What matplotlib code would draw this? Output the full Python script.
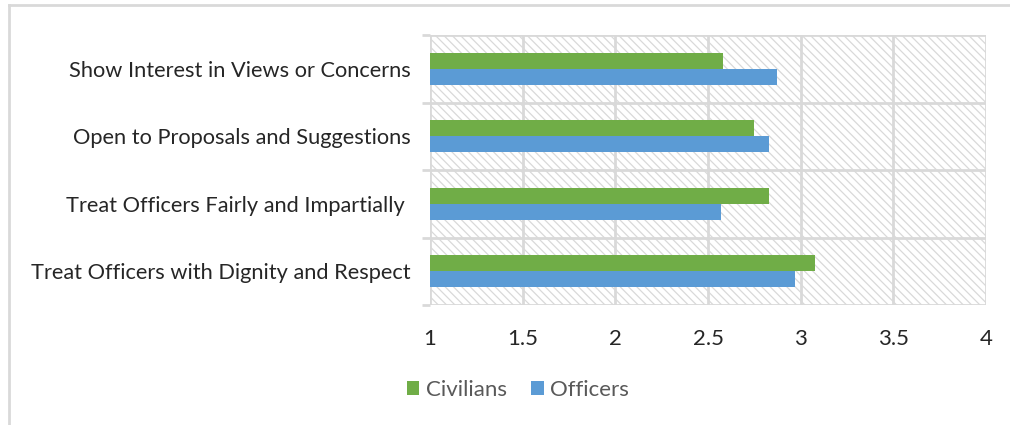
import numpy as np
import matplotlib
matplotlib.use("Agg")
import matplotlib.pyplot as plt
from matplotlib.patches import Rectangle, Patch
from matplotlib.lines import Line2D

plt.rcParams['font.family'] = ['Lato', 'DejaVu Sans']
plt.rcParams['hatch.linewidth'] = 0.9
plt.rcParams['hatch.color'] = '#d4d4d4'

# survey items, bottom to top
categories = ["Treat Officers with Dignity and Respect",
              "Treat Officers Fairly and Impartially ",
              "Open to Proposals and Suggestions",
              "Show Interest in Views or Concerns"]
civilians = [3.08, 2.83, 2.75, 2.58]
officers = [2.97, 2.57, 2.83, 2.87]
xticks = [1, 1.5, 2, 2.5, 3, 3.5, 4]
xticklabels = ["1", "1.5", "2", "2.5", "3", "3.5", "4"]

green = '#70ad47'
blue = '#5b9bd5'
grid = '#d9d9d9'

fig = plt.figure(figsize=(10.10, 4.25), dpi=100)
ax = fig.add_axes([430 / 1010, 1 - 305 / 425, 556 / 1010, 270 / 425])

# hatched plot background
ax.add_patch(Rectangle((1, -0.5), 3, 4, facecolor='white', edgecolor=grid,
                       hatch='\\\\\\\\', linewidth=0, zorder=0))

y = np.arange(len(categories))
h = 0.235
ax.barh(y + h / 2, [v - 1 for v in civilians], left=1, height=h, color=green, zorder=3)
ax.barh(y - h / 2, [v - 1 for v in officers], left=1, height=h, color=blue, zorder=3)

ax.set_xlim(1, 4)
ax.set_ylim(-0.5, 3.5)

# grid lines
for x in xticks:
    ax.axvline(x, color=grid, lw=2, zorder=1)
for b in np.arange(-0.5, 4, 1):
    ax.axhline(b, color=grid, lw=2, zorder=1)

for s in ax.spines.values():
    s.set_visible(False)

ax.set_xticks(xticks)
ax.set_xticklabels(xticklabels, fontsize=16, color='#262626')
ax.tick_params(axis='x', length=0, pad=17)

ax.set_yticks(y)
ax.set_yticklabels(categories, fontsize=15.7, color='#262626')
ax.tick_params(axis='y', length=0, pad=14)
ax.set_yticks(np.arange(-0.5, 4, 1), minor=True)
ax.tick_params(axis='y', which='minor', length=6, width=2, color=grid)

handles = [Patch(facecolor=green, label='Civilians'),
           Patch(facecolor=blue, label='Officers')]
fig.legend(handles=handles, loc='center', bbox_to_anchor=(518 / 1010, 1 - 390 / 425),
           ncol=2, frameon=False, fontsize=16, labelcolor='#595959',
           handlelength=0.55, handleheight=0.55, handletextpad=0.3, columnspacing=1.1)

# chart frame along the top and left edges
fig.add_artist(Line2D([9 / 1010, 9 / 1010], [0, 1 - 5 / 425], color=grid, lw=2,
                      transform=fig.transFigure))
fig.add_artist(Line2D([9 / 1010, 1], [1 - 5 / 425, 1 - 5 / 425], color=grid, lw=2,
                      transform=fig.transFigure))

fig.savefig('out.png', dpi=100, facecolor='white')
